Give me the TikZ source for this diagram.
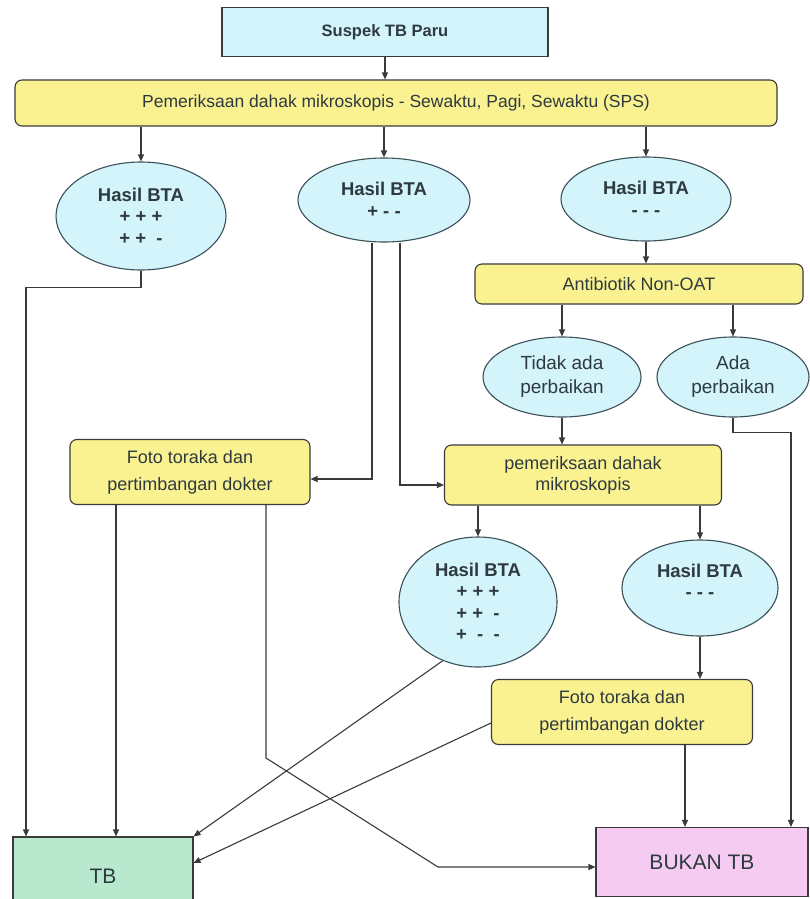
\documentclass[tikz,border=0pt]{standalone}
\usepackage{fontspec}
\setmainfont{Liberation Sans}
\usetikzlibrary{shapes.geometric,arrows.meta,calc}
\definecolor{cy}{HTML}{D2F4FA}
\definecolor{yel}{HTML}{FAF290}
\definecolor{grn}{HTML}{B8E8CE}
\definecolor{pnk}{HTML}{F6CBF2}
\definecolor{linec}{HTML}{3A3A3A}
\definecolor{ellc}{HTML}{3C5058}
\definecolor{txt}{HTML}{2E3A40}
\begin{document}
\begin{tikzpicture}[x=1pt,y=-1pt,
  base/.style={draw=linec, line width=1.1pt, align=center, inner sep=1pt, text=txt,
    font=\fontsize{18}{22}\selectfont},
  ybox/.style={base, fill=yel, rounded corners=7pt},
  ell/.style={ellipse, draw=ellc, fill=cy, line width=1.1pt, align=center, inner sep=0pt, text=txt,
    font=\fontsize{18.5}{21.5}\selectfont},
  ln/.style={draw=linec, line width=1.1pt},
  arr/.style={ln, -{Triangle[length=7pt,width=6pt]}}]
\useasboundingbox (0,0) rectangle (809,899);

% nodes
\node[base, fill=cy, minimum width=326pt, minimum height=49pt, font=\fontsize{16.5}{20}\selectfont\bfseries]
  (suspek) at (385,32) {Suspek TB Paru};
\node[ybox, minimum width=762pt, minimum height=46pt, font=\fontsize{17.5}{21}\selectfont]
  (pem) at (396,103) {Pemeriksaan dahak mikroskopis - Sewaktu, Pagi, Sewaktu (SPS)};
\node[ell, minimum width=170pt, minimum height=108pt] (e1) at (141,216)
  {\textbf{Hasil BTA}\\\textbf{+ + +}\\\textbf{+ + \ -}};
\node[ell, minimum width=172pt, minimum height=84pt] (e2) at (384,200)
  {\textbf{Hasil BTA}\\\textbf{+ - -}};
\node[ell, minimum width=170pt, minimum height=84pt] (e3) at (646,199)
  {\textbf{Hasil BTA}\\\textbf{- - -}};
\node[ybox, minimum width=328pt, minimum height=40pt] (anti) at (639,284) {Antibiotik Non-OAT};
\node[ell, minimum width=158pt, minimum height=80pt, font=\fontsize{19}{24}\selectfont]
  (e4) at (562,377) {Tidak ada\\perbaikan};
\node[ell, minimum width=152pt, minimum height=80pt, font=\fontsize{19}{24}\selectfont]
  (e5) at (733,377) {Ada\\perbaikan};
\node[ybox, minimum width=240pt, minimum height=65pt, font=\fontsize{18}{27}\selectfont]
  (foto1) at (190,472) {Foto toraka dan\\pertimbangan dokter};
\node[ybox, minimum width=277pt, minimum height=60pt, font=\fontsize{18}{21}\selectfont]
  (pem2) at (583,475) {pemeriksaan dahak\\mikroskopis};
\node[ell, minimum width=158pt, minimum height=130pt] (e6) at (478,602)
  {\textbf{Hasil BTA}\\\textbf{+ + +}\\\textbf{+ + \ -}\\\textbf{+ \ - \ -}};
\node[ell, minimum width=156pt, minimum height=96pt] (e7) at (700,588)
  {\textbf{Hasil BTA}\\\textbf{- - -}\\[-8pt]\mbox{}};
\node[ybox, minimum width=261pt, minimum height=65pt, font=\fontsize{18}{27}\selectfont]
  (foto2) at (622,712) {Foto toraka dan\\pertimbangan dokter};
\node[base, fill=grn, minimum width=180pt, minimum height=78pt, font=\fontsize{21}{24}\selectfont]
  (tb) at (103,876) {TB};
\node[base, fill=pnk, minimum width=212pt, minimum height=69pt, font=\fontsize{21}{24}\selectfont]
  (bukan) at (702,862) {BUKAN TB};

% helper coordinates
\coordinate (tbL) at (26,0);
\coordinate (bkR) at (791,0);
\coordinate (e2a) at ([xshift=-12pt]e2.south);
\coordinate (e2b) at ([xshift=16pt]e2.south);
\coordinate (f1a) at ([xshift=-74pt]foto1.south);
\coordinate (f1b) at ([xshift=76pt]foto1.south);
\coordinate (f2b) at ([xshift=63pt]foto2.south);
\coordinate (k1) at (266,758);
\coordinate (k2) at (438,867);

% connectors
\draw[arr] (suspek.south) -- (suspek.south |- pem.north);
\draw[arr] (e1.north |- pem.south) -- (e1.north);
\draw[arr] (e2.north |- pem.south) -- (e2.north);
\draw[arr] (e3.north |- pem.south) -- (e3.north);
\draw[arr] (e1.south) -- ++(0,17) -| (tbL |- tb.north);
\draw[arr] (e2a) |- ([yshift=-7pt]foto1.east);
\draw[arr] (e2b) |- ([yshift=-10pt]pem2.west);
\draw[arr] (e3.south) -- (e3.south |- anti.north);
\draw[arr] (e4.north |- anti.south) -- (e4.north);
\draw[arr] (e5.north |- anti.south) -- (e5.north);
\draw[arr] (e4.south) -- (e4.south |- pem2.north);
\draw[arr] (e5.south) -- ++(0,15) -| (bkR |- bukan.north);
\draw[arr] (e6.north |- pem2.south) -- (e6.north);
\draw[arr] (e7.north |- pem2.south) -- (e7.north);
\draw[arr] (e7.south) -- (e7.south |- foto2.north);
\draw[arr] (f1a) -- (f1a |- tb.north);
\draw[arr] (f1b) -- (k1) -- (k2) -- (k2 -| bukan.west);
\draw[arr] (e6.239) -- (tb.north east);
\draw[arr] ([yshift=-11pt]foto2.west) -- ([yshift=13pt]tb.east);
\draw[arr] (f2b) -- (f2b |- bukan.north);
\end{tikzpicture}
\end{document}
